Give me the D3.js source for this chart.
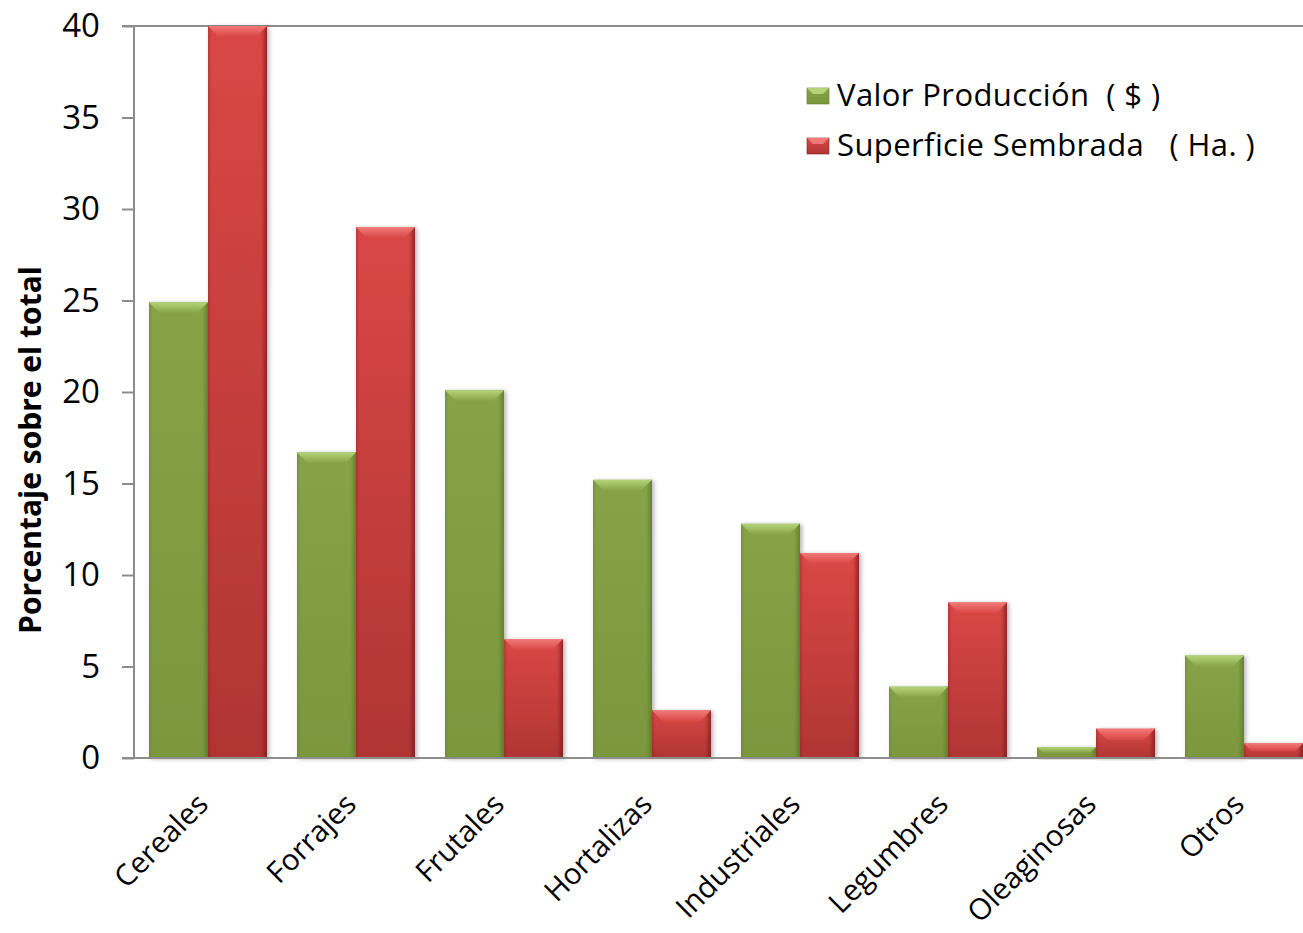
<!DOCTYPE html>
<html>
<head>
<meta charset="utf-8">
<style>
  body { margin: 0; background: #fff; }
  text { font-family: "Open Sans", sans-serif; }
</style>
</head>
<body>
<script src="https://cdn.jsdelivr.net/npm/d3@7"></script>
<script>
// data
var categories = ["Cereales", "Forrajes", "Frutales", "Hortalizas", "Industriales", "Legumbres", "Oleaginosas", "Otros"];
var valorProduccion = [24.9, 16.7, 20.1, 15.2, 12.8, 3.9, 0.6, 5.6];
var superficieSembrada = [40, 29.0, 6.5, 2.6, 11.2, 8.5, 1.6, 0.8];
var seriesNames = ["Valor Producción  ( $ )", "Superficie Sembrada   ( Ha. )"];
var yTicks = [0, 5, 10, 15, 20, 25, 30, 35, 40];

var w = 1303, h = 933;
var plotLeft = 134, plotTop = 26, plotBottom = 758;

var svg = d3.select("body").append("svg")
    .attr("width", w)
    .attr("height", h);

var defs = svg.append("defs");

// bar looks: body gradient + lighter bevel on top
var looks = [
  {id: "g", top: "#87a347", bot: "#7b973e", edge: "#5e7a2a", bevel: "#b5d47a"},
  {id: "r", top: "#d94745", bot: "#b03533", edge: "#7d1f1f", bevel: "#f27a78"}
];
looks.forEach(function(c) {
  var v = defs.append("linearGradient").attr("id", "v" + c.id)
      .attr("x1", 0).attr("y1", 0).attr("x2", 0).attr("y2", 1);
  v.append("stop").attr("offset", "0%").attr("stop-color", c.top);
  v.append("stop").attr("offset", "100%").attr("stop-color", c.bot);
  var hz = defs.append("linearGradient").attr("id", "h" + c.id);
  hz.append("stop").attr("offset", "0%").attr("stop-color", c.edge).attr("stop-opacity", 0.35);
  hz.append("stop").attr("offset", "6%").attr("stop-color", c.edge).attr("stop-opacity", 0);
  hz.append("stop").attr("offset", "90%").attr("stop-color", c.edge).attr("stop-opacity", 0);
  hz.append("stop").attr("offset", "100%").attr("stop-color", c.edge).attr("stop-opacity", 0.8);
  var b = defs.append("linearGradient").attr("id", "b" + c.id)
      .attr("x1", 0).attr("y1", 0).attr("x2", 0).attr("y2", 1);
  b.append("stop").attr("offset", "0%").attr("stop-color", c.bevel);
  b.append("stop").attr("offset", "100%").attr("stop-color", c.top);
});
var f = defs.append("filter").attr("id", "shadow")
    .attr("x", "-10%").attr("y", "-10%").attr("width", "130%").attr("height", "120%");
f.append("feDropShadow").attr("dx", 2).attr("dy", 1).attr("stdDeviation", 2)
    .attr("flood-color", "#000").attr("flood-opacity", 0.3);

var x0 = d3.scaleBand()
    .domain(categories)
    .range([plotLeft, plotLeft + 8 * 148])
    .paddingInner(30 / 148)
    .paddingOuter(15 / 148);

var x1 = d3.scaleBand()
    .domain([0, 1])
    .range([0, x0.bandwidth()]);

var y = d3.scaleLinear()
    .domain([0, 40])
    .range([plotBottom, plotTop]);

var rows = categories.map(function(c, i) {
  return {cat: c, vals: [valorProduccion[i], superficieSembrada[i]]};
});

// axes
var yAxis = svg.append("g")
    .attr("transform", "translate(" + plotLeft + ",0)")
    .call(d3.axisLeft(y).tickValues(yTicks).tickSize(12).tickPadding(22));
yAxis.select(".domain").attr("stroke", "#8c8c8c").attr("stroke-width", 2)
    .attr("d", "M0," + plotTop + "V" + plotBottom);
yAxis.selectAll(".tick line").attr("stroke", "#8c8c8c").attr("stroke-width", 2);
yAxis.selectAll(".tick text").attr("font-size", 33).attr("fill", "#000")
    .attr("font-family", "'Open Sans', sans-serif");

svg.append("line")
    .attr("x1", plotLeft - 12).attr("x2", w)
    .attr("y1", y(40)).attr("y2", y(40))
    .attr("stroke", "#8c8c8c").attr("stroke-width", 2);

var groups = svg.selectAll("g.grp")
    .data(rows)
  .enter().append("g")
    .attr("class", "grp")
    .attr("transform", function(d) { return "translate(" + x0(d.cat) + ",0)"; });

var bars = groups.selectAll("g.bar")
    .data(function(d) { return d.vals.map(function(v, i) { return {v: v, i: i}; }); })
  .enter().append("g")
    .attr("class", "bar")
    .attr("filter", "url(#shadow)");

bars.append("rect")
    .attr("x", function(d) { return x1(d.i); })
    .attr("y", function(d) { return y(d.v); })
    .attr("width", x1.bandwidth())
    .attr("height", function(d) { return plotBottom - y(d.v); })
    .attr("fill", function(d) { return "url(#v" + looks[d.i].id + ")"; });
bars.append("rect")
    .attr("x", function(d) { return x1(d.i); })
    .attr("y", function(d) { return y(d.v); })
    .attr("width", x1.bandwidth())
    .attr("height", function(d) { return plotBottom - y(d.v); })
    .attr("fill", function(d) { return "url(#h" + looks[d.i].id + ")"; });
// bevel on the top edge
bars.append("path")
    .attr("d", function(d) {
      var xa = x1(d.i), xb = xa + x1.bandwidth(), yt = y(d.v);
      var b = Math.min(11, (plotBottom - yt) / 2);
      return "M" + xa + "," + yt + "H" + xb + "L" + (xb - b) + "," + (yt + b) + "H" + (xa + b) + "Z";
    })
    .attr("fill", function(d) { return "url(#b" + looks[d.i].id + ")"; });

// x axis line over the bars
svg.append("line")
    .attr("x1", plotLeft - 12).attr("x2", w)
    .attr("y1", plotBottom).attr("y2", plotBottom)
    .attr("stroke", "#8c8c8c").attr("stroke-width", 2);

// category labels
svg.selectAll("text.cat")
    .data(categories)
  .enter().append("text")
    .attr("class", "cat")
    .attr("transform", function(d) {
      return "translate(" + (x0(d) + x0.bandwidth() / 2 + 2) + ",806) rotate(-45)";
    })
    .attr("text-anchor", "end")
    .attr("font-size", 29.5)
    .text(function(d) { return d; });

// y title
svg.append("text")
    .attr("transform", "translate(41,450) rotate(-90)")
    .attr("text-anchor", "middle")
    .attr("font-size", 30)
    .attr("font-weight", "bold")
    .text("Porcentaje sobre el total");

// legend
var leg = svg.selectAll("g.leg")
    .data(seriesNames)
  .enter().append("g")
    .attr("class", "leg")
    .attr("transform", function(d, i) { return "translate(807," + (88 + i * 50) + ")"; });
leg.append("rect")
    .attr("width", 22).attr("height", 16)
    .attr("fill", function(d, i) { return "url(#v" + looks[i].id + ")"; })
    .attr("stroke", function(d, i) { return looks[i].edge; }).attr("stroke-width", 0.6);
leg.append("path")
    .attr("d", "M0,0H22L16,6H6Z")
    .attr("fill", function(d, i) { return looks[i].bevel; });
leg.append("text")
    .attr("x", 30).attr("y", 18)
    .attr("font-size", 31)
    .attr("letter-spacing", 0.4)
    .style("white-space", "pre")
    .text(function(d) { return d; });
</script>
</body>
</html>
